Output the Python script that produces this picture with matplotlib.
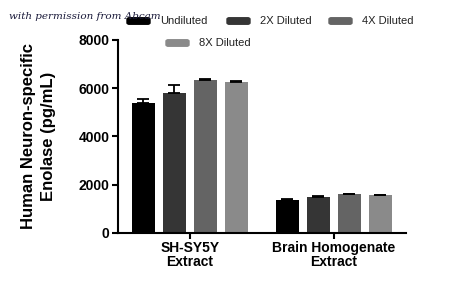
import matplotlib.pyplot as plt
from matplotlib.patches import FancyBboxPatch
import numpy as np

groups = ["SH-SY5Y\nExtract", "Brain Homogenate\nExtract"]
series = ["Undiluted", "2X Diluted", "4X Diluted", "8X Diluted"]
colors = ["#000000", "#353535", "#646464", "#8a8a8a"]
values = [[5390, 1380], [5820, 1480], [6360, 1600], [6270, 1570]]
errors = [[170, 20], [310, 60], [40, 20], [40, 20]]
yticks = [0, 2000, 4000, 6000, 8000]

plt.rcParams['font.family'] = ['Liberation Sans', 'DejaVu Sans']

fig = plt.figure(figsize=(4.5, 2.94), dpi=100)
ax = fig.add_axes([0.262, 0.2075, 0.64, 0.6565])

x = np.arange(len(groups))
step = 0.215
width = 0.16
for i, name in enumerate(series):
    xs = x + (i - 1.5) * step
    ax.bar(xs, values[i], width, color=colors[i], zorder=2)
    ax.errorbar(xs, values[i], yerr=[[0, 0], errors[i]], fmt='none',
                ecolor='black', elinewidth=1.3, capsize=4, capthick=1.3, zorder=3)

ax.set_xlim(-0.5, 1.5)
ax.set_ylim(0, 8000)
ax.set_yticks(yticks)
ax.set_yticklabels([str(t) for t in yticks], fontweight='bold', fontsize=10)
ax.set_xticks(x)
ax.set_xticklabels(groups, fontweight='bold', fontsize=10, linespacing=1.0)
ax.spines['top'].set_visible(False)
ax.spines['right'].set_visible(False)
ax.spines['left'].set_linewidth(1.5)
ax.spines['bottom'].set_linewidth(1.5)
ax.tick_params(width=1.5, length=4, pad=2)
ax.set_ylabel("Human Neuron-specific\nEnolase (pg/mL)", fontweight='bold',
              fontsize=12, labelpad=16, linespacing=1.45)

# legend drawn by hand: three on the first row, one centered below
leg = [(127, 21), (227, 21), (329, 21), (166, 43)]
for (px, py), name, c in zip(leg, series, colors):
    fx, fy = px / 450, 1 - py / 294
    fig.patches.append(FancyBboxPatch((fx, fy - 0.011), 23 / 450, 0.022,
                                      boxstyle="round,pad=0,rounding_size=0.005",
                                      transform=fig.transFigure, color=c))
    fig.text(fx + 33 / 450, fy, name, fontsize=8, va='center', color='#222222')

fig.text(0.02, 0.945, "with permission from Abcam", fontsize=7.5, style='italic',
         family='DejaVu Serif', color='#1a1a3a', va='center')

fig.savefig("out.png", dpi=100)
